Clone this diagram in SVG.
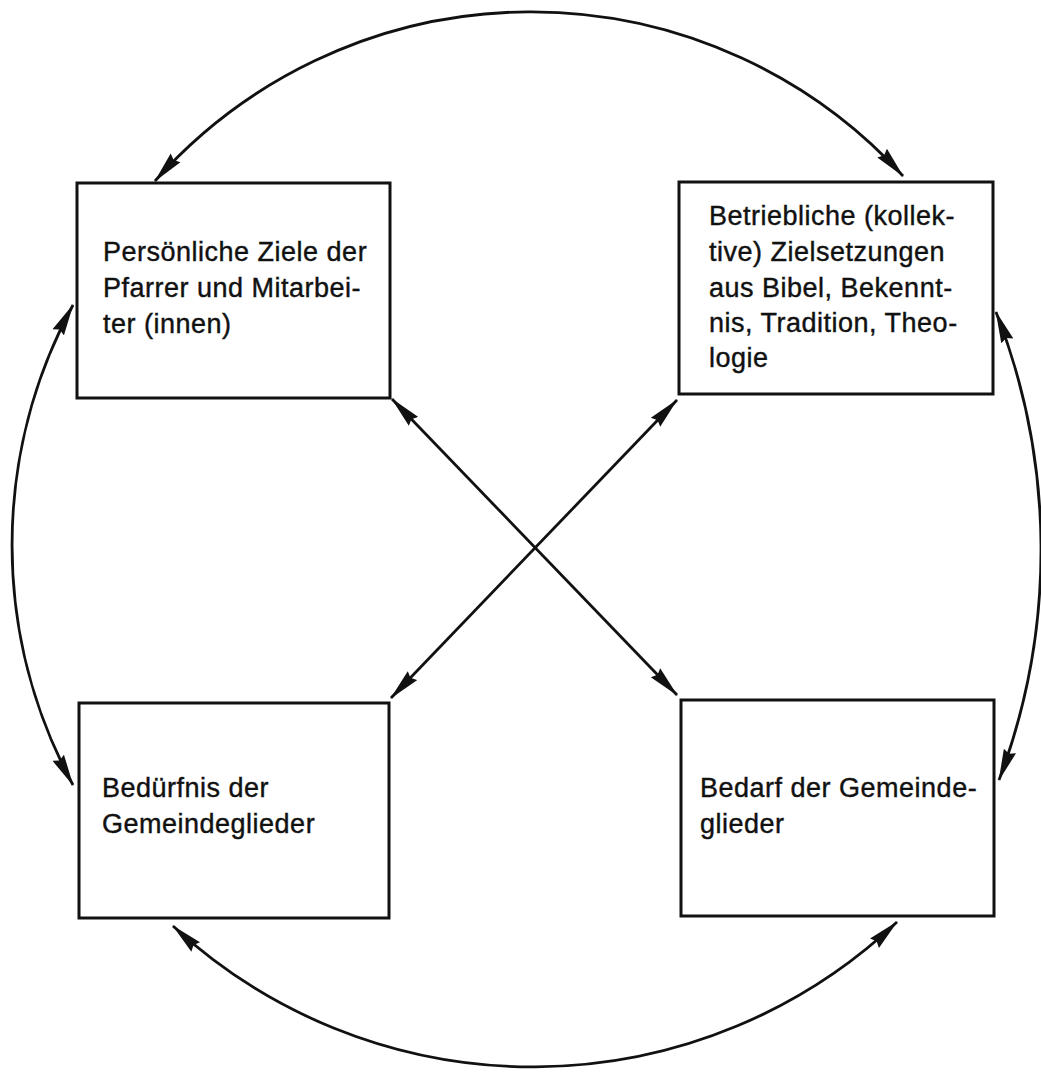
<svg xmlns="http://www.w3.org/2000/svg" width="1041" height="1076" viewBox="0 0 1041 1076">
<style>
  .box { fill: #fff; stroke: #111; stroke-width: 3; }
  .lbl { font-family: "Liberation Sans", Arial, sans-serif; font-size: 27px; letter-spacing: 0.5px; fill: #111; stroke: #111; stroke-width: 0.4; }
  .con { fill: none; stroke: #111; stroke-width: 2.8; marker-start: url(#ah); marker-end: url(#ah); }
</style>
<defs>
  <marker id="ah" viewBox="0 0 32 14" refX="31" refY="7" markerWidth="32" markerHeight="14" markerUnits="userSpaceOnUse" orient="auto-start-reverse">
    <path d="M0,0.5 L32,7 L0,13.5 L3,7 z" fill="#111"/>
  </marker>
</defs>
<rect width="1041" height="1076" fill="#fff"/>
<g id="connectors">
  <path class="con" d="M155,181 A503,503 0 0 1 903,176"/>
  <path class="con" d="M996,312 A651,651 0 0 1 999,780"/>
  <path class="con" d="M897,922 A530,530 0 0 1 173,926"/>
  <path class="con" d="M73,785 A503,503 0 0 1 73,305"/>
  <path class="con" d="M392,399 L677,695"/>
  <path class="con" d="M677,400 L391,698"/>
</g>
<g id="node-tl">
  <rect class="box" x="77" y="183" width="313" height="215"/>
  <text class="lbl" x="103" y="261">Persönliche Ziele der</text>
  <text class="lbl" x="103" y="297">Pfarrer und Mitarbei-</text>
  <text class="lbl" x="103" y="333">ter (innen)</text>
</g>
<g id="node-tr">
  <rect class="box" x="679" y="182" width="314" height="212"/>
  <text class="lbl" x="709" y="225">Betriebliche (kollek-</text>
  <text class="lbl" x="709" y="261">tive) Zielsetzungen</text>
  <text class="lbl" x="709" y="297">aus Bibel, Bekennt-</text>
  <text class="lbl" x="709" y="332">nis, Tradition, Theo-</text>
  <text class="lbl" x="709" y="367">logie</text>
</g>
<g id="node-bl">
  <rect class="box" x="79" y="703" width="310" height="215"/>
  <text class="lbl" x="102" y="797">Bedürfnis der</text>
  <text class="lbl" x="102" y="833">Gemeindeglieder</text>
</g>
<g id="node-br">
  <rect class="box" x="681" y="700" width="313" height="216"/>
  <text class="lbl" x="700" y="797">Bedarf der Gemeinde-</text>
  <text class="lbl" x="700" y="833">glieder</text>
</g>
</svg>
